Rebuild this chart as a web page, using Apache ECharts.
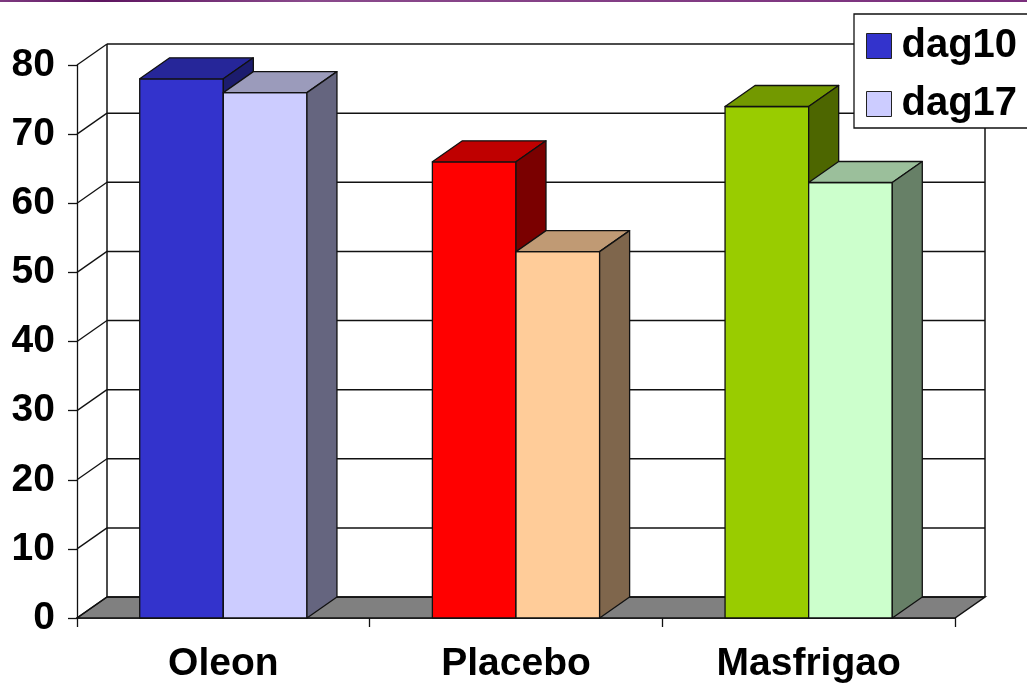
<!DOCTYPE html>
<html>
<head>
<meta charset="utf-8">
<title>dag10 / dag17</title>
<script src="https://cdn.jsdelivr.net/npm/echarts@6/dist/echarts.min.js"></script>
<style>
  html, body { margin: 0; padding: 0; background: #ffffff; }
  #chart { width: 1027px; height: 684px; }
</style>
</head>
<body>
<div id="chart"></div>
<script>
// ---- data ----
const categories = ['Oleon', 'Placebo', 'Masfrigao'];
const seriesNames = ['dag10', 'dag17'];
const dag10 = [78, 66, 74];
const dag17 = [76, 53, 63];
const yTicks = [0, 10, 20, 30, 40, 50, 60, 70, 80];

// ---- styles: per-category face colours [front, top, side] ----
const palette10 = [
  ['#3333CC', '#262699', '#1C1C6E'],
  ['#FF0000', '#BF0000', '#7A0000'],
  ['#99CC00', '#739900', '#4D6600']
];
const palette17 = [
  ['#CCCCFF', '#9B9BBB', '#65657F'],
  ['#FFCC99', '#C09A74', '#7F664C'],
  ['#CCFFCC', '#9BBF9B', '#678067']
];

// depth of the 3D box (screen offset of the back plane)
const DX = 30, DY = -21;
const FONT = "'Liberation Sans', Arial, sans-serif";
const EDGE = '#111111';

// back wall, side wall and floor, one item per value tick
function renderWall(params, api) {
  const v = api.value(0);
  const cs = params.coordSys;
  const x0 = cs.x, x1 = cs.x + cs.width;
  const y = api.coord([0, v])[1];
  const yBase = api.coord([0, 0])[1];
  const children = [];
  if (v === 0) {
    children.push({
      type: 'polygon',
      shape: { points: [[x0, y], [x1, y], [x1 + DX, y + DY], [x0 + DX, y + DY]] },
      style: { fill: '#808080', stroke: EDGE, lineWidth: 1.5 }
    });
  }
  children.push({
    type: 'line',
    shape: { x1: x0, y1: y, x2: x0 + DX, y2: y + DY },
    style: { stroke: EDGE, lineWidth: 1.3 }
  });
  children.push({
    type: 'line',
    shape: { x1: x0 + DX, y1: y + DY, x2: x1 + DX, y2: y + DY },
    style: { stroke: EDGE, lineWidth: 1.5 }
  });
  if (v === yTicks[yTicks.length - 1]) {
    children.push({
      type: 'line',
      shape: { x1: x0 + DX, y1: y + DY, x2: x0 + DX, y2: yBase + DY },
      style: { stroke: EDGE, lineWidth: 1.5 }
    });
    children.push({
      type: 'line',
      shape: { x1: x1 + DX, y1: y + DY, x2: x1 + DX, y2: yBase + DY },
      style: { stroke: EDGE, lineWidth: 1.5 }
    });
  }
  return { type: 'group', children: children };
}

// 3D column: front face, top face, right side face
function barRenderer(slot, palette) {
  return function (params, api) {
    const i = api.value(0);
    const val = api.value(1);
    const top = api.coord([i, val]);
    const base = api.coord([i, 0]);
    const catW = api.size([1, 0])[0];
    const w = catW / 3.5;            // two columns + 150% gap
    const xl = top[0] - w + slot * w;
    const xr = xl + w;
    const yt = top[1], yb = base[1];
    const c = palette[i];
    const edge = { stroke: EDGE, lineWidth: 1.3, lineJoin: 'round' };
    return {
      type: 'group',
      children: [
        {
          type: 'rect',
          shape: { x: xl, y: yt, width: w, height: yb - yt },
          style: Object.assign({ fill: c[0] }, edge)
        },
        {
          type: 'polygon',
          shape: { points: [[xl, yt], [xr, yt], [xr + DX, yt + DY], [xl + DX, yt + DY]] },
          style: Object.assign({ fill: c[1] }, edge)
        },
        {
          type: 'polygon',
          shape: { points: [[xr, yt], [xr + DX, yt + DY], [xr + DX, yb + DY], [xr, yb]] },
          style: Object.assign({ fill: c[2] }, edge)
        }
      ]
    };
  };
}

const chart = echarts.init(document.getElementById('chart'), null, { renderer: 'canvas' });

chart.setOption({
  animation: false,
  backgroundColor: '#ffffff',
  graphic: [{
    type: 'rect',
    left: 0, top: 0,
    shape: { width: 1027, height: 2 },
    style: {
      fill: new echarts.graphic.LinearGradient(0, 0, 1, 0, [
        { offset: 0, color: '#7E3A80' },
        { offset: 0.1, color: '#5E1560' },
        { offset: 0.3, color: '#8A4A8C' },
        { offset: 1, color: '#7A2E7C' }
      ])
    },
    z: 10
  }],
  legend: {
    data: seriesNames,
    orient: 'vertical',
    left: 854,
    top: 14,
    padding: [12, 40, 4, 12],
    itemGap: 18,
    itemWidth: 25,
    itemHeight: 25,
    icon: 'rect',
    backgroundColor: '#ffffff',
    borderColor: '#111111',
    borderWidth: 1.3,
    borderRadius: 0,
    itemStyle: { borderColor: '#222222', borderWidth: 1 },
    textStyle: {
      fontFamily: FONT, fontWeight: 'bold', fontSize: 40, lineHeight: 40,
      color: '#000000', padding: [0, 0, 0, 5]
    }
  },
  grid: { left: 77, top: 65, width: 878, height: 553, containLabel: false },
  xAxis: {
    type: 'category',
    data: categories,
    boundaryGap: true,
    axisLine: { show: true, lineStyle: { color: EDGE, width: 1.5 } },
    axisTick: { show: true, length: 9, interval: 0, lineStyle: { color: EDGE, width: 1.3 } },
    axisLabel: {
      interval: 0, margin: 27,
      fontFamily: FONT, fontWeight: 'bold', fontSize: 39, color: '#000000'
    },
    splitLine: { show: false }
  },
  yAxis: {
    type: 'value',
    min: 0, max: 80, interval: 10,
    axisLine: { show: true, lineStyle: { color: EDGE, width: 1.3 } },
    axisTick: { show: true, length: 9, lineStyle: { color: EDGE, width: 1.3 } },
    axisLabel: {
      margin: 22,
      fontFamily: FONT, fontWeight: 'bold', fontSize: 39, color: '#000000'
    },
    splitLine: { show: false }
  },
  series: [
    {
      type: 'custom',
      name: 'walls',
      silent: true,
      z: 1,
      renderItem: renderWall,
      data: yTicks.map(function (v) { return [v]; }),
      encode: { y: 0 }
    },
    {
      type: 'custom',
      name: seriesNames[0],
      z: 2,
      itemStyle: { color: palette10[0][0] },
      renderItem: barRenderer(0, palette10),
      data: categories.map(function (c, i) { return [i, dag10[i]]; }),
      encode: { x: 0, y: 1 }
    },
    {
      type: 'custom',
      name: seriesNames[1],
      z: 2,
      itemStyle: { color: palette17[0][0] },
      renderItem: barRenderer(1, palette17),
      data: categories.map(function (c, i) { return [i, dag17[i]]; }),
      encode: { x: 0, y: 1 }
    }
  ]
});
</script>
</body>
</html>
